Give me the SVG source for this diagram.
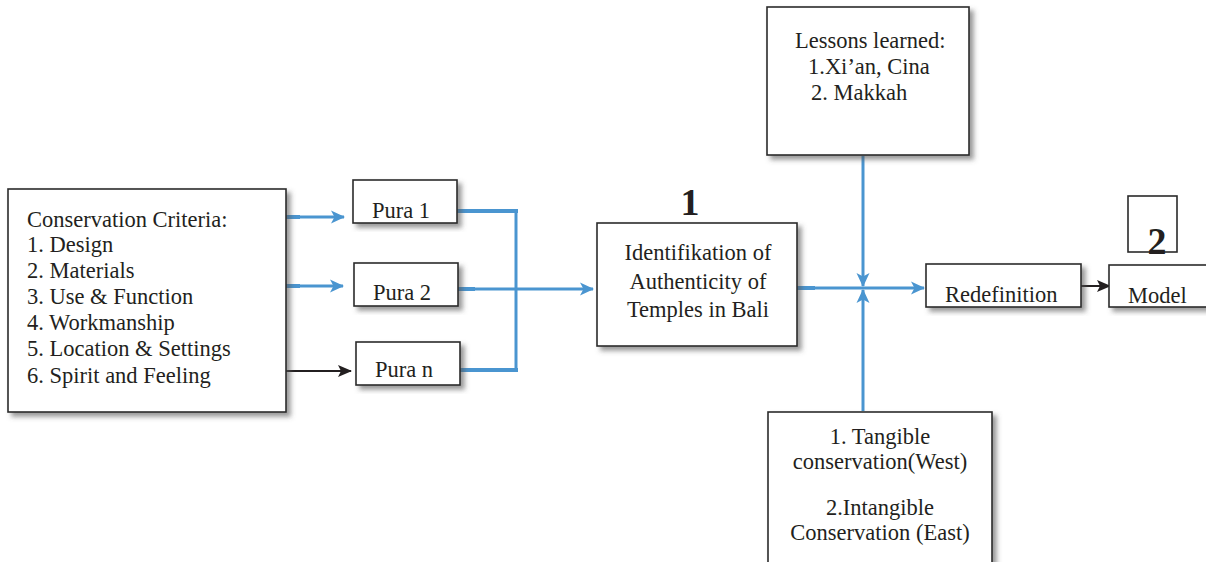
<svg xmlns="http://www.w3.org/2000/svg" width="1206" height="562" viewBox="0 0 1206 562">
  <style>
    .box { fill: #ffffff; stroke: #2a2a2a; stroke-width: 1.6; filter: url(#shadow); }
    .plain { fill: none; stroke: #2a2a2a; stroke-width: 1.6; }
    text { font-family: 'Liberation Serif', 'DejaVu Serif', 'Times New Roman', serif; }
    .t { font-size: 22.5px; fill: #231f20; }
    .mid { text-anchor: middle; }
    .num { font-size: 38px; font-weight: bold; fill: #231f20; text-anchor: middle; }
    .blue { fill: none; stroke: #4a95d0; stroke-width: 3; }
    .blueThick { fill: none; stroke: #4a95d0; stroke-width: 4; }
    .black { fill: none; stroke: #231f20; stroke-width: 2; }
  </style>
  <defs>
    <filter id="shadow" x="-10%" y="-10%" width="130%" height="130%">
      <feDropShadow dx="4" dy="4" stdDeviation="2.5" flood-color="#555555" flood-opacity="0.6"/>
    </filter>
    <marker id="arrBlue" viewBox="0 0 14 14" refX="13" refY="7" markerWidth="14" markerHeight="14" markerUnits="userSpaceOnUse" orient="auto">
      <path d="M0,0.5 L14,7 L0,13.5 L3.5,7 Z" fill="#4a95d0"/>
    </marker>
    <marker id="arrBlack" viewBox="0 0 14 12" refX="13" refY="6" markerWidth="14" markerHeight="12" markerUnits="userSpaceOnUse" orient="auto">
      <path d="M0,0 L14,6 L0,12 L3,6 Z" fill="#231f20"/>
    </marker>
  </defs>

  <g id="connectors">
    <!-- criteria to each temple -->
    <line class="blueThick" x1="286" y1="217" x2="300" y2="217"/>
    <line class="blue" x1="298" y1="217" x2="344" y2="217" marker-end="url(#arrBlue)"/>
    <line class="blueThick" x1="286" y1="286" x2="300" y2="286"/>
    <line class="blue" x1="298" y1="286" x2="343" y2="286" marker-end="url(#arrBlue)"/>
    <line class="black" x1="286" y1="371" x2="351" y2="371" marker-end="url(#arrBlack)"/>
    <!-- temples merge into identification -->
    <line class="blueThick" x1="457" y1="211" x2="518" y2="211"/>
    <line class="blueThick" x1="460" y1="370" x2="518" y2="370"/>
    <line class="blue" x1="516" y1="209" x2="516" y2="372"/>
    <line class="blueThick" x1="458" y1="289" x2="475" y2="289"/>
    <line class="blue" x1="473" y1="289" x2="593" y2="289" marker-end="url(#arrBlue)"/>
    <!-- identification to redefinition -->
    <line class="blueThick" x1="797" y1="288" x2="815" y2="288"/>
    <line class="blue" x1="813" y1="288" x2="924" y2="288" marker-end="url(#arrBlue)"/>
    <!-- lessons and conservation inputs -->
    <line class="blue" x1="863" y1="156" x2="863" y2="286" marker-end="url(#arrBlue)"/>
    <line class="blue" x1="863" y1="411" x2="863" y2="290" marker-end="url(#arrBlue)"/>
    <!-- redefinition to model -->
    <line class="black" x1="1067" y1="286" x2="1110" y2="286" marker-end="url(#arrBlack)"/>
  </g>

  <g id="criteria">
    <rect class="box" x="8" y="189" width="278" height="223"/>
    <text class="t" x="27" y="227">Conservation Criteria:</text>
    <text class="t" x="27" y="252">1. Design</text>
    <text class="t" x="27" y="278">2. Materials</text>
    <text class="t" x="27" y="304">3. Use &amp; Function</text>
    <text class="t" x="27" y="330">4. Workmanship</text>
    <text class="t" x="27" y="356">5. Location &amp; Settings</text>
    <text class="t" x="27" y="383">6. Spirit and Feeling</text>
  </g>

  <g id="pura1">
    <rect class="box" x="353" y="180" width="104" height="43"/>
    <text class="t" x="372" y="218">Pura 1</text>
  </g>
  <g id="pura2">
    <rect class="box" x="354" y="263" width="104" height="43"/>
    <text class="t" x="373" y="300">Pura 2</text>
  </g>
  <g id="puran">
    <rect class="box" x="356" y="342" width="104" height="43"/>
    <text class="t" x="375" y="377">Pura n</text>
  </g>

  <g id="identification">
    <text class="num" x="690" y="215">1</text>
    <rect class="box" x="597" y="223" width="200" height="123"/>
    <text class="t mid" x="698" y="260">Identifikation of</text>
    <text class="t mid" x="698" y="289">Authenticity of</text>
    <text class="t mid" x="698" y="317">Temples in Bali</text>
  </g>

  <g id="lessons">
    <rect class="box" x="767" y="7" width="202" height="148"/>
    <text class="t" x="795" y="48">Lessons learned:</text>
    <text class="t" x="808" y="74">1.Xi’an, Cina</text>
    <text class="t" x="811" y="100">2. Makkah</text>
  </g>

  <g id="conservation">
    <rect class="box" x="768" y="412" width="224" height="160"/>
    <text class="t mid" x="880" y="444">1. Tangible</text>
    <text class="t mid" x="880" y="469">conservation(West)</text>
    <text class="t mid" x="880" y="515">2.Intangible</text>
    <text class="t mid" x="880" y="540">Conservation (East)</text>
  </g>

  <g id="redefinition">
    <rect class="box" x="926" y="264" width="155" height="43"/>
    <text class="t" x="945" y="302">Redefinition</text>
  </g>

  <g id="model">
    <rect class="plain" x="1128" y="196" width="49" height="56"/>
    <text class="num" x="1157" y="254">2</text>
    <rect class="box" x="1109" y="265" width="110" height="42"/>
    <text class="t" x="1128" y="303">Model</text>
  </g>
</svg>
